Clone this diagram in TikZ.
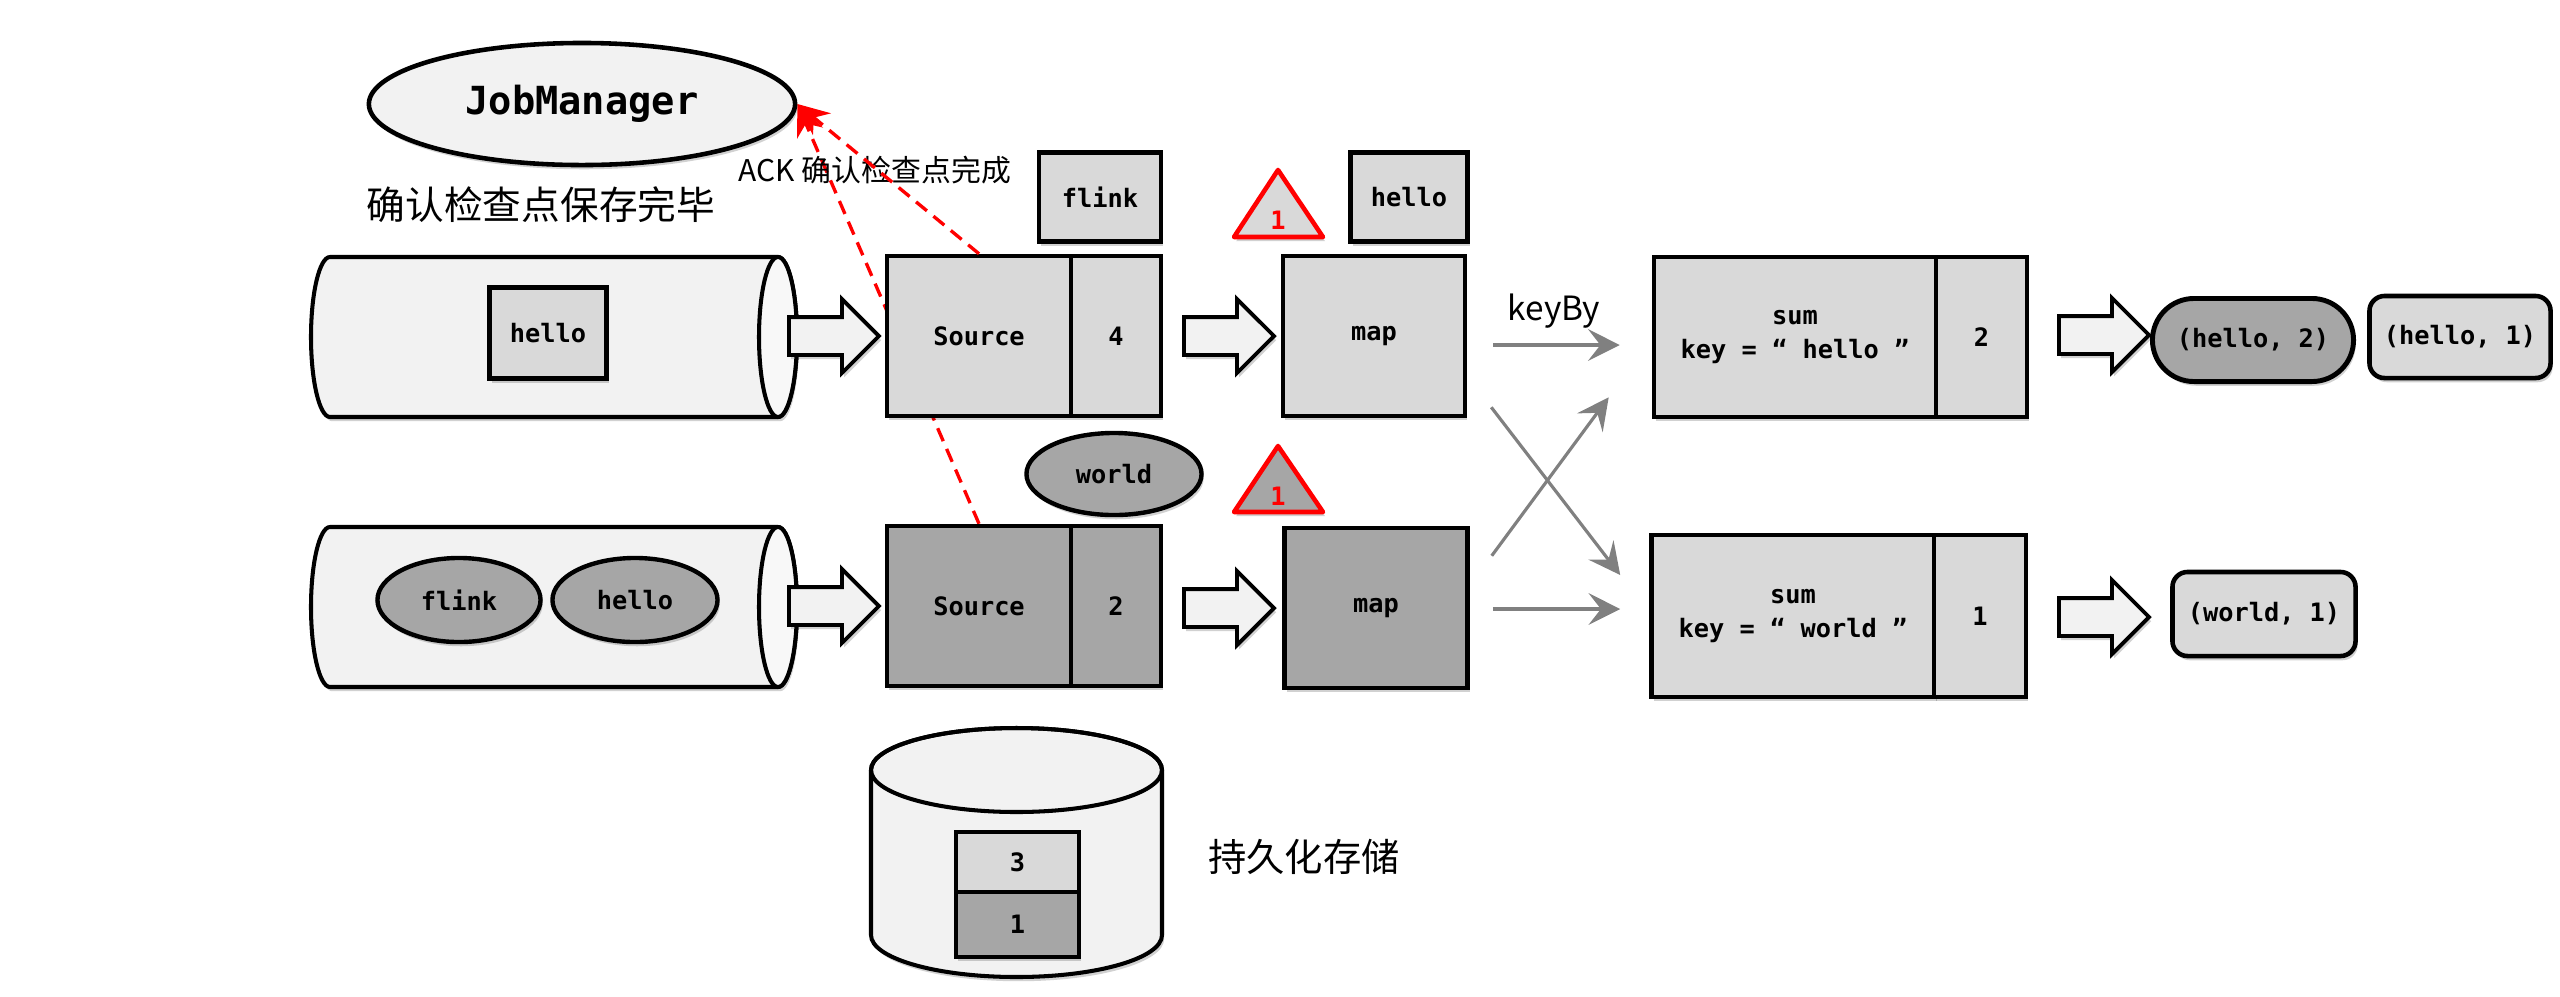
\documentclass[tikz,border=0pt]{standalone}
\usepackage{fontspec}
\setmonofont{DejaVu Sans Mono}
\newfontfamily\cjk{Noto Sans CJK SC}
\usetikzlibrary{shapes.geometric,shapes.arrows,shapes.misc,arrows.meta,shadows,calc,backgrounds}
\definecolor{lg}{HTML}{D9D9D9}
\definecolor{dg}{HTML}{A6A6A6}
\definecolor{wg}{HTML}{F2F2F2}
\definecolor{ag}{HTML}{808080}
\begin{document}
\begin{tikzpicture}[x=0.01cm,y=-0.01cm,
  shd/.style={drop shadow={shadow xshift=0.6pt,shadow yshift=-1.2pt,opacity=0.18,fill=black}},
  mono/.style={font=\ttfamily\bfseries\fontsize{7.2}{9.4}\selectfont},
  box/.style={rectangle,draw=black,line width=1.25pt,fill=lg,mono,inner sep=0pt,align=center,shd},
  dbox/.style={box,fill=dg},
  ell/.style={ellipse,draw=black,line width=1.25pt,fill=dg,mono,inner sep=0pt,shd},
  fat/.style={single arrow,draw=black,line width=1.1pt,fill=wg,minimum height=0.9cm,minimum width=0.7cm,
    single arrow head extend=0.18cm,inner xsep=0pt,inner ysep=0.17cm,anchor=tail,shd},
  tri/.style={draw=red,line width=1.3pt,fill=lg,line join=round,shd},
  trinum/.style={text=red,mono,inner sep=0pt},
  ack/.style={red,line width=0.95pt,dash pattern=on 4pt off 2.4pt,-{Stealth[length=9pt,width=8pt]}},
  garr/.style={draw=ag,line width=0.9pt,-{Stealth[length=9pt,width=9pt,inset=3.5pt]}},
  cyl/.style={draw=black,line width=1.15pt,fill=wg,shd},
  outbox/.style={rectangle,rounded corners=0.15cm,draw=black,line width=1.3pt,fill=lg,mono,inner sep=0pt,shd},
]
\useasboundingbox (0,0) rectangle (2560,996);

% JobManager
\node[ellipse,draw=black,line width=1.3pt,fill=wg,minimum width=4.26cm,minimum height=1.22cm,inner sep=0pt,
      font=\ttfamily\bfseries\fontsize{11}{13}\selectfont,shd] (jm) at (582,104) {JobManager};
\node[font=\cjk\fontsize{11}{13}\selectfont,inner sep=0pt] (conf) at (541,205) {确认检查点保存完毕};
\node[font=\cjk\fontsize{8.5}{10}\selectfont,inner sep=0pt] (acklbl) at (875,170) {ACK 确认检查点完成};

% upper queue
\draw[cyl] (330,257) -- (778,257) arc[start angle=-90,end angle=90,x radius=19,y radius=80]
  -- (330,417) arc[start angle=90,end angle=270,x radius=19,y radius=80] -- cycle;
\draw[line width=1.15pt,fill=wg!50!white] (778,337) ellipse[x radius=19,y radius=80];
\node[box,minimum width=1.17cm,minimum height=0.91cm] (qh) at (548,333) {hello};

% lower queue
\draw[cyl] (330,527) -- (778,527) arc[start angle=-90,end angle=90,x radius=19,y radius=80]
  -- (330,687) arc[start angle=90,end angle=270,x radius=19,y radius=80] -- cycle;
\draw[line width=1.15pt,fill=wg!50!white] (778,607) ellipse[x radius=19,y radius=80];
\node[ell,minimum width=1.63cm,minimum height=0.84cm] (qf) at (459,600) {flink};
\node[ell,minimum width=1.65cm,minimum height=0.84cm] (qh2) at (635,600) {hello};

% fat arrows
\node[fat] (fa1) at (787,336) {};
\node[fat] (fa2) at (787,606) {};
\node[fat] (fa3) at (1182,336) {};
\node[fat] (fa4) at (1182,608) {};
\node[fat] (fa5) at (2057,335) {};
\node[fat] (fa6) at (2057,617) {};

% sources
\node[box,minimum width=1.84cm,minimum height=1.60cm] (src1) at (979,336) {Source};
\node[box,minimum width=0.90cm,minimum height=1.60cm] (src1n) at (1116,336) {4};
\node[dbox,minimum width=1.84cm,minimum height=1.60cm] (src2) at (979,606) {Source};
\node[dbox,minimum width=0.90cm,minimum height=1.60cm] (src2n) at (1116,606) {2};

% barriers / records
\node[box,minimum width=1.22cm,minimum height=0.89cm] (fl) at (1100,197) {flink};
\node[box,minimum width=1.17cm,minimum height=0.89cm] (hl) at (1409,197) {hello};
\node[ell,minimum width=1.75cm,minimum height=0.82cm] (wo) at (1114,474) {world};
\draw[tri] (1278,170) -- (1323,237) -- (1234,237) -- cycle;
\node[trinum] (t1) at (1278,220) {1};
\draw[tri,fill=dg] (1278,446) -- (1323,512) -- (1234,512) -- cycle;
\node[trinum] (t2) at (1278,496) {1};

% maps
\node[box,minimum width=1.82cm,minimum height=1.60cm] (map1) at (1374,336) {map};
\node[dbox,minimum width=1.83cm,minimum height=1.60cm] (map2) at (1376,608) {map};

% sums
\node[box,minimum width=2.82cm,minimum height=1.60cm] (sum1) at (1795,337) {sum\\key = “ hello ”};
\node[box,minimum width=0.91cm,minimum height=1.60cm] (sum1n) at (1981.5,337) {2};
\node[box,minimum width=2.83cm,minimum height=1.62cm] (sum2) at (1793,616) {sum\\key = “ world ”};
\node[box,minimum width=0.92cm,minimum height=1.62cm] (sum2n) at (1980,616) {1};

% outputs
\node[rounded rectangle,draw=black,line width=1.4pt,fill=dg,mono,inner sep=0pt,minimum width=2.01cm,minimum height=0.83cm,shd] (o1) at (2253,340) {(hello, 2)};
\node[outbox,minimum width=1.81cm,minimum height=0.82cm] (o2) at (2460,337) {(hello, 1)};
\node[outbox,minimum width=1.83cm,minimum height=0.84cm] (o3) at (2264,614) {(world, 1)};

% keyBy arrows
\node[font=\cjk\fontsize{9.5}{11}\selectfont,inner sep=0pt] (kb) at (1554,311) {keyBy};
\draw[garr] ($(map1.east)+(26,9)$) -- ($(sum1.west)+(-32,8)$);
\draw[garr] ($(map1.south east)+(24,-11)$) -- ($(sum2.west)+(-29,-41)$);
\draw[garr] ($(map2.north east)+(22,30)$) -- ($(sum1.south west)+(-43,-22)$);
\draw[garr] ($(map2.east)+(23,1)$) -- ($(sum2.west)+(-29,-7)$);

% persistent storage
\draw[cyl] (871,770) -- (871,935) arc[start angle=180,end angle=0,x radius=145.5,y radius=42]
  -- (1162,770) arc[start angle=0,end angle=-180,x radius=145.5,y radius=42] -- cycle;
\draw[line width=1.15pt] (1016.5,770) ellipse[x radius=145.5,y radius=42];
\node[box,minimum width=1.23cm,minimum height=0.60cm] (b3) at (1017.5,862) {3};
\node[dbox,minimum width=1.23cm,minimum height=0.65cm] (b1) at (1017.5,924.5) {1};
\node[font=\cjk\fontsize{10.9}{13}\selectfont,inner sep=0pt] (store) at (1304,857) {持久化存储};

% ACK dashed arrows
\begin{scope}[on background layer]
\draw[ack] (src2.north) -- (jm.east);
\end{scope}
\draw[ack] (src1.north) -- (jm.east);
\end{tikzpicture}
\end{document}
